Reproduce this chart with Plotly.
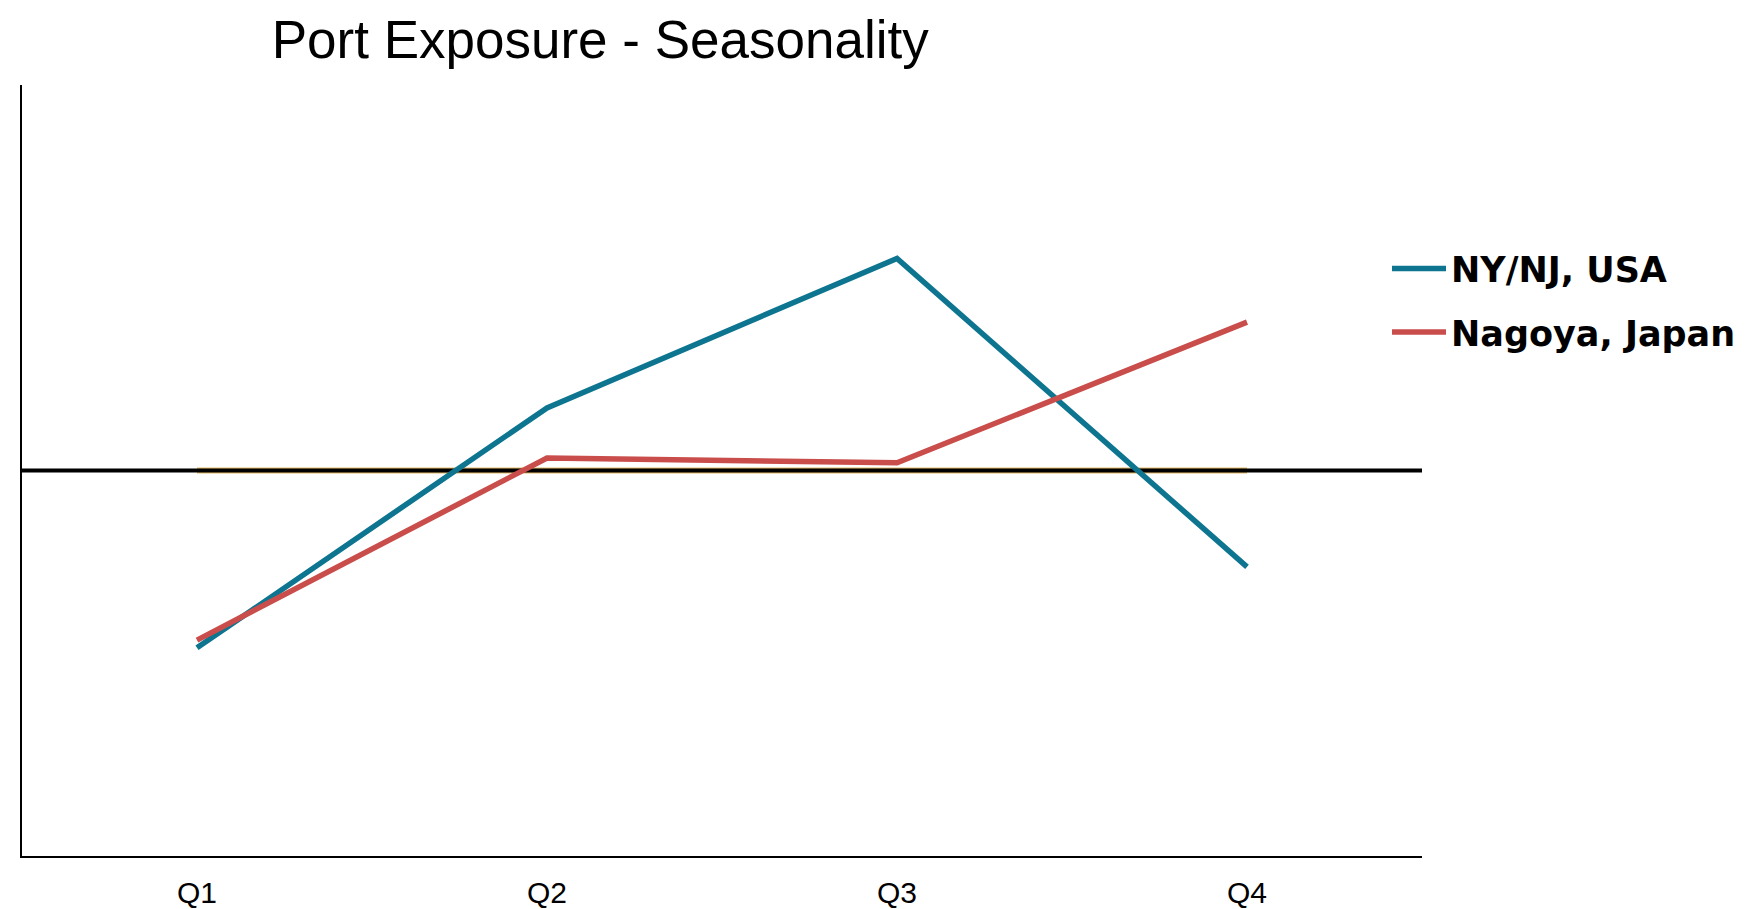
import plotly.graph_objects as go

quarters = ["Q1", "Q2", "Q3", "Q4"]
ny_nj = [-9.2, 3.25, 11.0, -5.0]
nagoya = [-8.8, 0.65, 0.4, 7.7]
baseline = [0, 0, 0, 0]

x_pos = list(range(len(quarters)))
x_range = [-0.5, len(quarters) - 0.5]
y_range = [-20, 20]

fig = go.Figure()
fig.add_trace(go.Scatter(x=x_pos, y=baseline, mode="lines", name="Baseline",
                         line=dict(color="#E3B766", width=6), showlegend=False,
                         hoverinfo="skip"))
fig.add_trace(go.Scatter(x=x_range, y=[0, 0], mode="lines", name="zero",
                         line=dict(color="black", width=4), showlegend=False,
                         hoverinfo="skip"))
fig.add_trace(go.Scatter(x=x_pos, y=ny_nj, mode="lines", name="NY/NJ, USA",
                         line=dict(color="#0E7590", width=5.5), legendgroup="a"))
fig.add_trace(go.Scatter(x=x_pos, y=nagoya, mode="lines", name="Nagoya, Japan",
                         line=dict(color="#C94D4B", width=5.5), legendgroup="b"))

fig.update_layout(
    width=1747, height=909,
    paper_bgcolor="white", plot_bgcolor="white",
    margin=dict(l=14, r=333, t=77, b=61, autoexpand=False),
    title=dict(text="Port Exposure - Seasonality", x=0.339, xanchor="center",
               y=0.965, yanchor="middle",
               font=dict(family="Liberation Sans, Arial", size=53, color="black")),
    showlegend=True,
    legend=dict(x=0.975, xanchor="left", y=0.80, yanchor="top",
                font=dict(family="DejaVu Sans", size=35, color="black", weight="bold"),
                tracegroupgap=15, itemwidth=54, bgcolor="rgba(0,0,0,0)"),
    xaxis=dict(range=x_range, tickvals=x_pos, ticktext=quarters,
               showgrid=False, zeroline=False, showline=True, automargin=False,
               linecolor="black", linewidth=2, ticks="outside",
               ticklen=9, tickcolor="white",
               tickfont=dict(family="Liberation Sans, Arial", size=30, color="black")),
    yaxis=dict(range=y_range, showgrid=False, zeroline=False, showline=True,
               automargin=False,
               linecolor="black", linewidth=2, showticklabels=False, ticks=""),
)

fig.write_html("out.html")
